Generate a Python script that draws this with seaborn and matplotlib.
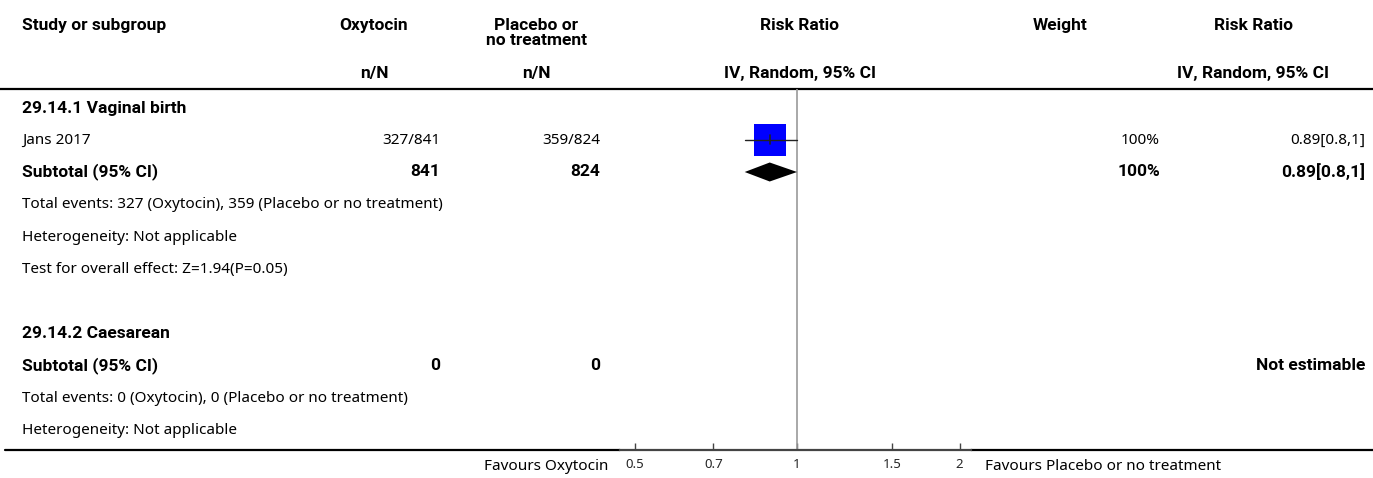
import numpy as np
import seaborn as sns
import matplotlib.pyplot as plt

# ---- data ----
study = "Jans 2017"
oxy_events, oxy_total = 327, 841
pla_events, pla_total = 359, 824
rr, ci_low, ci_high = 0.89, 0.80, 1.00
weight_pct = 100
tick_values = [0.5, 0.7, 1, 1.5, 2]
tick_labels = ["0.5", "0.7", "1", "1.5", "2"]
caes_oxy_total, caes_pla_total = 0, 0

sns.set_theme(style="white")
plt.rcParams['font.family'] = ['Noto Sans', 'DejaVu Sans']
BOLD_FAMILY = ['Roboto', 'DejaVu Sans']

W, H = 1373, 478
fig = plt.figure(figsize=(W / 100, H / 100), dpi=100)
ax = fig.add_axes([0, 0, 1, 1])
ax.set_xlim(0, W)
ax.set_ylim(H, 0)
ax.axis("off")

FS = 11
FS_BOLD = 12.5
TOP_LINE, BOT_LINE = 89, 450
AX_L, AX_R = 620, 971
rows = [108, 140, 172, 205, 237, 269, 334, 366, 398, 430]
LX = 22


def txt(x, y, s, ha="left", bold=False, **kw):
    size = FS
    if bold:
        kw.update(family=BOLD_FAMILY, fontweight="bold")
        size = FS_BOLD
    ax.text(x, y, s, ha=ha, va="center", fontsize=size, color="black", **kw)


# header
txt(LX, 25, "Study or subgroup", bold=True)
txt(374, 25, "Oxytocin", ha="center", bold=True)
txt(536, 33, "Placebo or\nno treatment", ha="center", bold=True, linespacing=1.05)
txt(800, 25, "Risk Ratio", ha="center", bold=True)
txt(1060, 25, "Weight", ha="center", bold=True)
txt(1253, 25, "Risk Ratio", ha="center", bold=True)
txt(374, 73, "n/N", ha="center", bold=True)
txt(536, 73, "n/N", ha="center", bold=True)
txt(800, 73, "IV, Random, 95% CI", ha="center", bold=True)
txt(1253, 73, "IV, Random, 95% CI", ha="center", bold=True)
ax.plot([0, W], [TOP_LINE, TOP_LINE], color="black", lw=1.6)

# group 1
txt(LX, rows[0], "29.14.1 Vaginal birth", bold=True)
txt(LX, rows[1], study)
txt(440, rows[1], f"{oxy_events}/{oxy_total}", ha="right")
txt(600, rows[1], f"{pla_events}/{pla_total}", ha="right")
txt(1160, rows[1], f"{weight_pct}%", ha="right")
txt(1365, rows[1], f"{rr:g}[{ci_low:g},{ci_high:g}]", ha="right")
txt(LX, rows[2], "Subtotal (95% CI)", bold=True)
txt(440, rows[2], f"{oxy_total}", ha="right", bold=True)
txt(600, rows[2], f"{pla_total}", ha="right", bold=True)
txt(1160, rows[2], f"{weight_pct}%", ha="right", bold=True)
txt(1365, rows[2], f"{rr:g}[{ci_low:g},{ci_high:g}]", ha="right", bold=True)
txt(LX, rows[3], f"Total events: {oxy_events} (Oxytocin), {pla_events} (Placebo or no treatment)")
txt(LX, rows[4], "Heterogeneity: Not applicable")
txt(LX, rows[5], "Test for overall effect: Z=1.94(P=0.05)")

# group 2
txt(LX, rows[6], "29.14.2 Caesarean", bold=True)
txt(LX, rows[7], "Subtotal (95% CI)", bold=True)
txt(440, rows[7], f"{caes_oxy_total}", ha="right", bold=True)
txt(600, rows[7], f"{caes_pla_total}", ha="right", bold=True)
txt(1365, rows[7], "Not estimable", ha="right", bold=True)
txt(LX, rows[8], f"Total events: {caes_oxy_total} (Oxytocin), {caes_pla_total} (Placebo or no treatment)")
txt(LX, rows[9], "Heterogeneity: Not applicable")

# bottom lines and favours labels
ax.plot([5, AX_L], [BOT_LINE, BOT_LINE], color="black", lw=1.6)
ax.plot([AX_R, W], [BOT_LINE, BOT_LINE], color="black", lw=1.6)
txt(608, 466, "Favours Oxytocin", ha="right")
txt(985, 466, "Favours Placebo or no treatment")

# forest axes
fx = fig.add_axes([AX_L / W, 1 - BOT_LINE / H, (AX_R - AX_L) / W, (BOT_LINE - TOP_LINE) / H])
fx.patch.set_alpha(0)
fx.set_xscale("log")
fx.set_xlim(0.47, 2.10)
fx.set_ylim(BOT_LINE, TOP_LINE)
for s in ["top", "left", "right"]:
    fx.spines[s].set_visible(False)
fx.spines["bottom"].set_color("#444444")
fx.spines["bottom"].set_linewidth(1.6)
fx.set_yticks([])
fx.set_xticks(tick_values)
fx.set_xticklabels(tick_labels)
fx.minorticks_off()
fx.tick_params(axis="x", direction="in", length=5, width=1, color="#444444",
               labelsize=9.5, pad=6, bottom=True)

fx.axvline(1, color="#999999", lw=1.2, zorder=1)

# study: CI line, square, centre tick
sns.scatterplot(x=[rr], y=[rows[1]], marker="s", s=500, color="#0000ff",
                linewidth=0, ax=fx, zorder=3, legend=False)
fx.plot([ci_low, ci_high], [rows[1], rows[1]], color="#222222", lw=1, zorder=4)
fx.plot([rr, rr], [rows[1] - 4.5, rows[1] + 4.5], color="#222222", lw=1.2, zorder=4)

# subtotal diamond
fx.fill([ci_low, rr, ci_high, rr], [rows[2], rows[2] - 9.5, rows[2], rows[2] + 9.5],
        color="black", zorder=3, lw=0)
fx.set_xlabel("")
fx.set_ylabel("")

fig.savefig("out.png", dpi=100)
